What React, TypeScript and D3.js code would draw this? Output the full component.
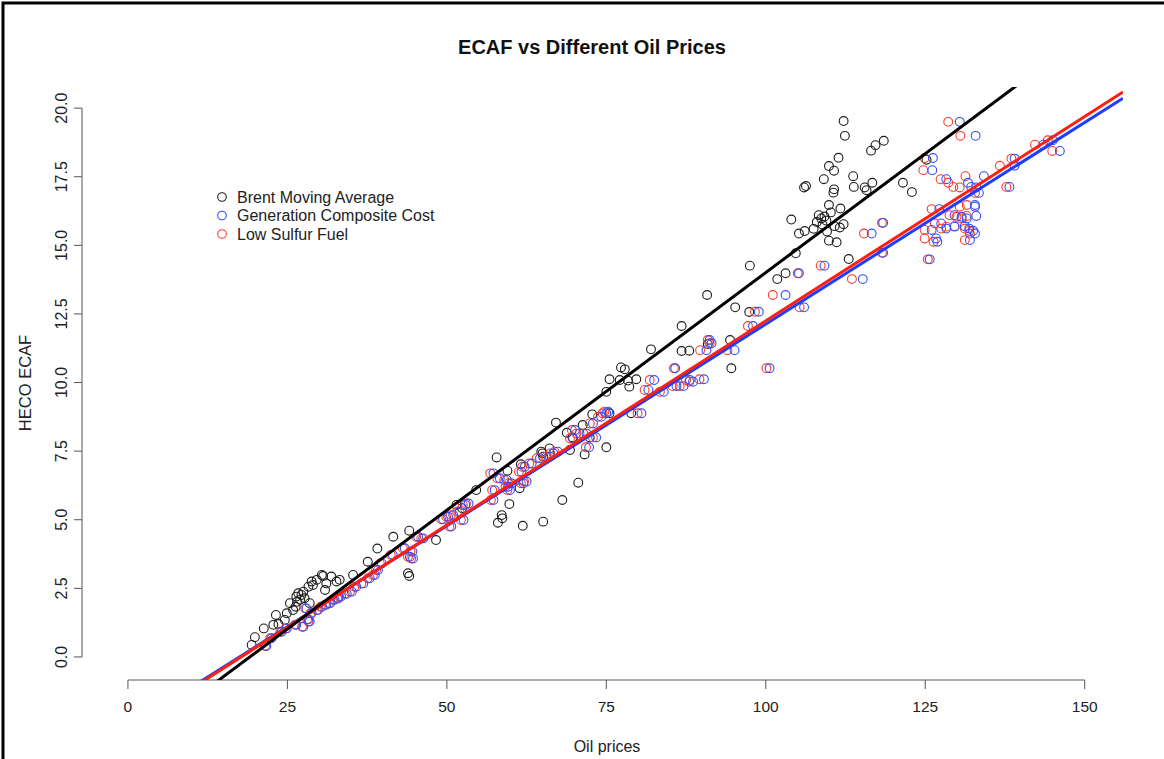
import React from 'react';
import * as d3 from 'd3';

const chartTitle = 'ECAF vs Different Oil Prices';
const xLabel = 'Oil prices';
const yLabel = 'HECO ECAF';
const xTicks = [0, 25, 50, 75, 100, 125, 150];
const yTicks = [0, 2.5, 5, 7.5, 10, 12.5, 15, 17.5, 20];
const xLim = [-7.2, 156.0];
const yLim = [-0.84, 20.77];

const seriesNames = ['Brent Moving Average', 'Generation Composite Cost', 'Low Sulfur Fuel'];
const seriesColors = ['#1c1c1c', '#3050ff', '#ff3a28'];
const lineColors = ['#000000', '#1f3cff', '#ff1f10'];
// fitted regression lines: intercept, slope (Brent, Generation, LSFO)
const fitIntercept = [-3.31, -2.57, -2.64];
const fitSlope = [0.1732, 0.147, 0.1489];

// Brent moving average: [oil price, ECAF]
const brentPoints: [number, number][] = [
  [19.4, 0.44], [19.9, 0.72], [21.3, 1.04], [22.8, 1.17], [23.2, 1.53], [23.6, 1.2], [24.6, 1.35],
  [24.9, 1.59], [25.4, 1.96], [25.9, 1.71], [26.3, 1.83], [26.4, 2.2], [26.5, 2.01], [26.7, 2.32],
  [27.0, 2.08], [27.2, 2.26], [27.5, 2.38], [27.7, 2.14], [28.3, 2.56], [28.5, 1.96], [28.8, 2.75],
  [29.0, 2.62], [29.6, 2.81], [30.4, 2.99], [30.6, 2.95], [30.9, 2.44], [31.1, 2.68], [31.9, 2.93],
  [32.7, 2.75], [33.2, 2.81], [35.3, 2.99], [37.6, 3.47], [39.1, 3.95], [41.6, 4.38], [43.9, 3.05],
  [44.1, 2.95], [44.1, 4.6], [48.3, 4.26], [51.5, 5.54], [52.4, 5.42], [54.6, 6.08], [57.8, 7.27],
  [58.0, 4.89], [58.6, 5.17], [58.7, 5.05], [59.5, 6.79], [59.8, 5.57], [61.4, 6.15], [61.6, 7.02],
  [61.9, 4.78], [64.8, 7.48], [65.0, 7.42], [65.1, 4.93], [65.1, 7.3], [66.1, 7.6], [67.1, 8.54],
  [68.1, 5.72], [68.8, 8.17], [69.3, 7.54], [69.7, 8.0], [70.6, 6.35], [71.3, 8.45], [71.6, 7.38],
  [72.4, 8.0], [72.8, 8.84], [75.0, 9.66], [75.0, 7.64], [75.5, 10.12], [75.5, 8.88], [77.1, 10.09],
  [77.3, 10.55], [77.9, 10.48], [78.4, 10.07], [78.6, 9.85], [78.9, 8.88], [79.7, 10.12], [82.0, 11.21],
  [86.8, 12.06], [86.8, 11.15], [88.0, 11.16], [90.8, 13.19], [90.9, 11.4], [94.4, 11.55], [94.6, 10.52],
  [95.2, 12.74], [97.4, 12.57], [97.5, 14.26], [101.8, 13.77], [103.1, 13.98], [104.0, 15.94],
  [104.7, 14.71], [105.2, 15.43], [106.0, 17.11], [106.1, 15.52], [106.3, 17.16], [107.5, 15.6],
  [108.0, 15.85], [108.3, 16.1], [108.7, 15.98], [108.9, 15.75], [109.1, 17.41], [109.2, 16.05],
  [109.5, 15.9], [109.6, 15.5], [109.9, 17.89], [109.9, 16.47], [109.9, 15.17], [110.2, 16.2],
  [110.6, 16.92], [110.7, 17.72], [110.7, 17.04], [110.8, 15.7], [111.1, 15.11], [111.4, 18.19],
  [111.6, 15.65], [111.7, 16.34], [112.2, 19.53], [112.2, 15.77], [112.4, 18.99], [113.0, 14.5],
  [113.7, 17.52], [113.8, 17.13], [115.5, 17.11], [115.8, 17.01], [116.5, 18.45], [116.7, 17.28],
  [117.2, 18.65], [118.5, 18.81], [121.5, 17.28], [122.9, 16.94], [125.2, 18.12],
];

// ECAF values matched with generation composite cost and LSFO prices
const ecafValues = [
  0.4, 0.68, 0.92, 1.04, 1.17, 1.1, 1.37, 1.29, 1.77, 1.59, 1.71, 1.83, 1.9, 1.96, 2.08, 2.14, 2.2,
  2.3, 2.38, 2.56, 2.68, 2.87, 2.99, 3.17, 3.41, 3.72, 3.96, 3.65, 3.84, 3.59, 4.38, 4.32, 5.02, 5.11,
  4.75, 5.17, 5.29, 4.99, 5.54, 5.59, 5.72, 6.08, 6.69, 6.51, 6.45, 6.2, 6.08, 6.33, 6.75, 6.33, 6.93,
  6.39, 7.05, 7.24, 7.3, 7.42, 7.48, 7.96, 8.27, 8.14, 8.14, 7.64, 8.51, 8.0, 8.75, 8.88, 8.94, 8.88,
  9.73, 10.09, 9.66, 10.52, 9.87, 9.87, 10.09, 10.03, 10.12, 11.18, 11.55, 11.43, 11.18, 12.06, 10.52,
  12.58, 12.74, 13.19, 13.98, 14.26, 13.77, 15.43, 15.82, 14.73, 19.5, 18.99, 18.18, 17.74, 17.41,
  17.28, 17.13, 17.11, 17.52, 16.91, 17.9, 18.16, 17.13, 18.67, 18.83, 18.44, 16.32, 16.1, 16.04,
  15.98, 16.41, 16.07, 15.8, 15.61, 15.68, 15.7, 15.61, 15.53, 15.43, 15.56, 15.25, 15.13, 15.19,
  14.49, 16.47,
];
const genCostPrices = [
  21.7, 22.5, 24.1, 24.9, 26.4, 27.5, 28.3, 28.5, 28.0, 28.8, 29.8, 30.4, 31.1, 31.7, 32.4, 33.0, 33.4,
  34.3, 35.1, 35.8, 36.9, 37.9, 38.7, 39.2, 39.8, 41.5, 43.4, 44.2, 44.6, 44.7, 45.5, 46.3, 49.4, 50.2,
  50.7, 51.0, 52.0, 52.6, 52.9, 53.4, 57.3, 57.5, 57.3, 58.3, 59.4, 59.6, 59.9, 60.1, 61.7, 62.0, 62.2,
  62.5, 63.3, 64.6, 66.1, 66.7, 67.4, 69.8, 70.1, 70.8, 71.9, 72.3, 72.9, 73.4, 74.2, 75.0, 75.3, 80.5,
  81.6, 82.5, 84.0, 85.8, 86.0, 87.1, 88.1, 88.6, 90.3, 90.7, 91.2, 91.5, 95.1, 98.0, 100.6,
  98.9, 106.0, 103.1, 105.2, 109.2, 115.2, 116.6, 118.4, 118.4, 130.4, 132.9, 126.2, 126.1, 128.3,
  131.7, 132.2, 133.0, 134.2, 133.4, 139.0, 139.0, 138.2, 143.5, 145.0, 146.1, 127.2, 129.6, 130.7,
  131.5, 132.8, 133.0, 127.5, 128.3, 129.6, 131.2, 131.9, 132.5, 132.8, 126.0, 126.7, 126.9, 132.0,
  125.7, 132.8,
];
const lsfoPrices = [
  21.5, 22.3, 23.9, 24.7, 26.2, 27.3, 28.1, 28.3, 27.8, 28.6, 29.6, 30.2, 30.9, 31.5, 32.1, 32.8, 33.1,
  34.0, 34.8, 35.5, 36.6, 37.6, 38.4, 38.9, 39.5, 41.2, 43.1, 43.9, 44.3, 44.4, 45.2, 46.0, 49.1, 49.9,
  50.4, 50.6, 51.6, 52.2, 52.5, 53.0, 56.9, 57.1, 56.8, 57.9, 59.0, 59.2, 59.5, 59.7, 61.3, 61.6, 61.8,
  62.1, 62.9, 64.1, 65.6, 66.2, 66.9, 69.3, 69.6, 70.3, 71.4, 71.8, 72.4, 72.9, 73.7, 74.4, 74.7, 79.9,
  81.0, 81.8, 83.4, 85.6, 85.4, 86.5, 87.5, 88.0, 89.6, 89.7, 90.9, 91.2, 94.0, 97.2, 100.1,
  98.3, 105.3, 101.1, 105.0, 108.6, 113.5, 115.4, 118.2, 118.2, 128.6, 130.5, 124.9, 124.7, 127.4,
  128.6, 129.4, 130.4, 131.3, 132.8, 136.7, 138.5, 137.7, 142.2, 144.2, 144.9, 126.0, 128.8, 129.9,
  130.7, 130.4, 131.5, 126.5, 127.5, 128.3, 129.6, 131.2, 131.9, 132.0, 124.9, 124.9, 126.3, 131.2,
  125.4, 131.5,
];

const W = 1164;
const H = 759;
const plot = { left: 82, right: 1123, top: 87, bottom: 680 };
const font = '"Liberation Sans", Arial, Helvetica, sans-serif';

export default function App() {
  const x = d3.scaleLinear().domain(xLim).range([plot.left, plot.right]);
  const y = d3.scaleLinear().domain(yLim).range([plot.bottom, plot.top]);
  const fmtY = d3.format('.1f');
  const line = d3.line<[number, number]>().x((d) => x(d[0])).y((d) => y(d[1]));

  const genPoints = ecafValues.map((v, i) => [genCostPrices[i], v] as [number, number]);
  const lsfoPoints = ecafValues.map((v, i) => [lsfoPrices[i], v] as [number, number]);
  const scatter = [brentPoints, genPoints, lsfoPoints];
  const drawOrder = [0, 2, 1];
  const lineOrder = [1, 2, 0];

  return (
    <svg width={W} height={H} style={{ position: 'absolute', left: 0, top: 0, background: '#fff' }}
      fontFamily={font}>
      <defs>
        <clipPath id="plotClip">
          <rect x={plot.left} y={plot.top} width={plot.right - plot.left} height={plot.bottom - plot.top} />
        </clipPath>
      </defs>
      <rect x={0} y={0} width={W} height={H} fill="#fff" />
      <path d={`M3,${H + 5} L3,3 L${W + 5},3`} fill="none" stroke="#000" strokeWidth={3} />
      <text x={592} y={54} textAnchor="middle" fontSize={20} fontWeight="bold" fill="#111">{chartTitle}</text>

      <g stroke="#555" strokeWidth={1}>
        <line x1={x(xTicks[0])} x2={x(xTicks[xTicks.length - 1])} y1={plot.bottom} y2={plot.bottom} />
        {xTicks.map((t) => (
          <line key={t} x1={x(t)} x2={x(t)} y1={plot.bottom} y2={plot.bottom + 9} />
        ))}
        <line x1={plot.left} x2={plot.left} y1={y(yTicks[0])} y2={y(yTicks[yTicks.length - 1])} />
        {yTicks.map((t) => (
          <line key={t} x1={plot.left - 8} x2={plot.left} y1={y(t)} y2={y(t)} />
        ))}
      </g>
      {xTicks.map((t) => (
        <text key={t} x={x(t)} y={712} textAnchor="middle" fontSize={15.5} fill="#222">{t}</text>
      ))}
      {yTicks.map((t) => (
        <text key={t} transform={`translate(67,${y(t)}) rotate(-90)`} textAnchor="middle" fontSize={16} fill="#222">{fmtY(t)}</text>
      ))}
      <text x={607} y={752} textAnchor="middle" fontSize={16} fill="#222">{xLabel}</text>
      <text transform={`translate(31,383) rotate(-90)`} textAnchor="middle" fontSize={16.5} fill="#222">{yLabel}</text>

      {drawOrder.map((s) => (
        <g key={s} fill="none" stroke={seriesColors[s]} strokeWidth={1.1}>
          {scatter[s].map((p, i) => (
            <circle key={i} cx={x(p[0])} cy={y(p[1])} r={4.4} />
          ))}
        </g>
      ))}

      <g clipPath="url(#plotClip)">
        {lineOrder.map((s) => (
          <path key={s} d={line(xLim.map((v) => [v, fitIntercept[s] + fitSlope[s] * v] as [number, number])) || ''}
            fill="none" stroke={lineColors[s]} strokeWidth={3} />
        ))}
      </g>

      {seriesNames.map((n, i) => (
        <g key={n}>
          <circle cx={222} cy={197 + i * 18.5} r={4.3} fill="none" stroke={seriesColors[i]} strokeWidth={1.1} />
          <text x={237} y={202.5 + i * 18.5} fontSize={16} fill="#222">{n}</text>
        </g>
      ))}
    </svg>
  );
}
